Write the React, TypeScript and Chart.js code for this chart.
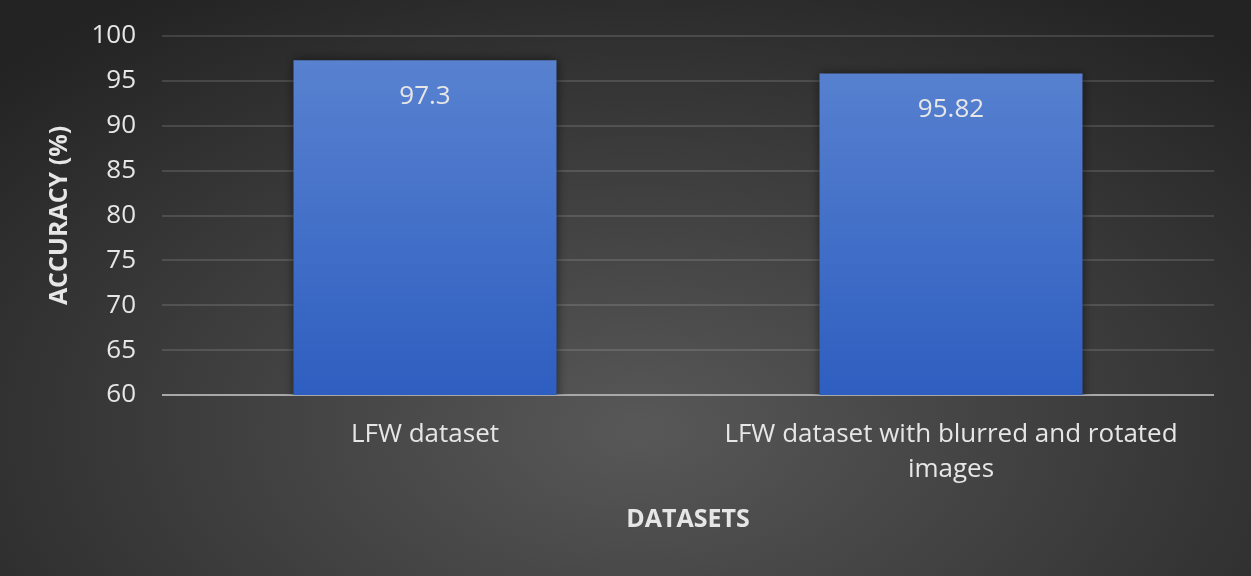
import React, { useEffect, useRef } from "react";
import { Chart, registerables } from "chart.js";

Chart.register(...registerables);

const categories: (string | string[])[] = [
  "LFW dataset",
  ["LFW dataset with blurred and rotated", "images"],
];
const accuracy: number[] = [97.3, 95.82];
const yTicks: number[] = [60, 65, 70, 75, 80, 85, 90, 95, 100];

const FONT = "'Open Sans', 'Noto Sans', sans-serif";
const TEXT = "#e6e6e6";

const bgPlugin = {
  id: "bg",
  beforeDraw(chart: any) {
    const { ctx, width, height } = chart;
    ctx.save();
    const cx = 640, cy = 430;
    ctx.translate(cx, cy);
    ctx.scale(1.7, 1);
    const g = ctx.createRadialGradient(0, 0, 0, 0, 0, 520);
    g.addColorStop(0, "#585858");
    g.addColorStop(1, "#232323");
    ctx.fillStyle = g;
    ctx.fillRect(-cx / 1.7 - 10, -cy - 10, width / 1.7 + 20, height + 20);
    ctx.restore();
  },
};

const shadowPlugin = {
  id: "barShadow",
  beforeDatasetsDraw(chart: any) {
    const ctx = chart.ctx;
    ctx.save();
    ctx.shadowColor = "rgba(0,0,0,0.55)";
    ctx.shadowBlur = 10;
    ctx.shadowOffsetX = 0;
    ctx.shadowOffsetY = 0;
  },
  afterDatasetsDraw(chart: any) {
    chart.ctx.restore();
  },
};

const labelPlugin = {
  id: "valueLabels",
  afterDatasetsDraw(chart: any) {
    const { ctx } = chart;
    const meta = chart.getDatasetMeta(0);
    ctx.save();
    ctx.fillStyle = TEXT;
    ctx.font = `26px ${FONT}`;
    ctx.textAlign = "center";
    ctx.textBaseline = "middle";
    meta.data.forEach((bar: any, i: number) => {
      ctx.fillText(String(accuracy[i]), bar.x, bar.y + 36);
    });
    ctx.restore();
  },
};

export default function App() {
  const ref = useRef<HTMLCanvasElement | null>(null);
  useEffect(() => {
    document.body.style.margin = "0";
    const canvas = ref.current!;
    const chart = new Chart(canvas, {
      type: "bar",
      data: {
        labels: categories as any,
        datasets: [
          {
            data: accuracy,
            backgroundColor: (c: any) => {
              const area = c.chart.chartArea;
              if (!area) return "#4472c4";
              const g = c.chart.ctx.createLinearGradient(0, area.top, 0, area.bottom);
              g.addColorStop(0, "#5b84d1");
              g.addColorStop(1, "#2e5ec0");
              return g;
            },
            borderWidth: 0,
            categoryPercentage: 1,
            barPercentage: 0.5,
          },
        ],
      },
      options: {
        animation: false,
        responsive: false,
        layout: { padding: { left: 0, right: 37, top: 36, bottom: 0 } },
        plugins: { legend: { display: false }, tooltip: { enabled: false } },
        scales: {
          y: {
            min: 60,
            max: 100,
            afterBuildTicks: (s: any) => {
              s.ticks = yTicks.map((v) => ({ value: v }));
            },
            afterFit: (s: any) => {
              s.width = 162;
              s.paddingTop = 0;
              s.paddingBottom = 0;
            },
            ticks: {
              color: TEXT,
              font: { family: FONT, size: 26 },
              padding: 26,
            },
            grid: {
              color: (c: any) => (c.tick && c.tick.value === 60 ? "#a8a8a8" : "rgba(255,255,255,0.13)"),
              lineWidth: 2,
              drawTicks: false,
            },
            border: { display: false },
            title: {
              display: true,
              text: "ACCURACY (%)",
              color: TEXT,
              font: { family: FONT, size: 25, weight: "bold" },
              padding: { top: 45, bottom: 0 },
            },
          },
          x: {
            afterFit: (s: any) => {
              s.height = 181;
              s.paddingLeft = 0;
              s.paddingRight = 0;
            },
            ticks: {
              color: TEXT,
              font: { family: FONT, size: 26, lineHeight: 1.35 },
              padding: 22,
              maxRotation: 0,
            },
            grid: { display: false, drawTicks: false },
            border: { display: false },
            title: {
              display: true,
              text: "DATASETS",
              color: TEXT,
              font: { family: FONT, size: 25, weight: "bold" },
              padding: { top: 0, bottom: 41 },
            },
          },
        },
      },
      plugins: [bgPlugin, shadowPlugin, labelPlugin],
    });
    return () => chart.destroy();
  }, []);
  return <canvas ref={ref} width={1251} height={576} style={{ display: "block" }} />;
}
